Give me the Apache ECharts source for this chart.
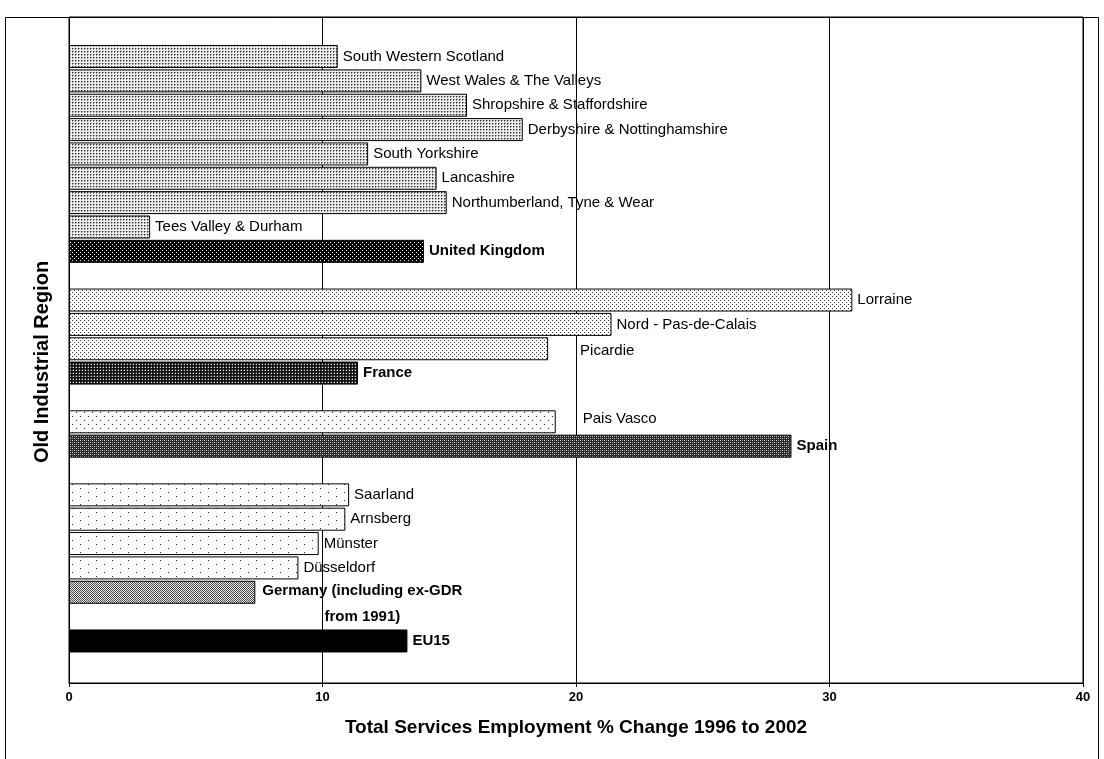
<!DOCTYPE html>
<html>
<head>
<meta charset="utf-8">
<script src="https://cdn.jsdelivr.net/npm/echarts@6/dist/echarts.min.js"></script>
<style>
  html, body { margin: 0; padding: 0; background: #fff; }
  #chart { width: 1104px; height: 759px; }
</style>
</head>
<body>
<div id="chart"></div>
<script>
// rows top to bottom, '-' rows are the blank gaps between countries
var regions = ['South Western Scotland', 'West Wales & The Valleys', 'Shropshire & Staffordshire',
    'Derbyshire & Nottinghamshire', 'South Yorkshire', 'Lancashire', 'Northumberland, Tyne & Wear',
    'Tees Valley & Durham', 'United Kingdom', '-1',
    'Lorraine', 'Nord - Pas-de-Calais', 'Picardie', 'France', '-2',
    'Pais Vasco', 'Spain', '-3',
    'Saarland', 'Arnsberg', 'Münster', 'Düsseldorf', 'Germany (including ex-GDR\nfrom 1991)', '-4',
    'EU15'];
var change = [10.6, 13.9, 15.7, 17.9, 11.8, 14.5, 14.9, 3.2, 14.0, null,
    30.9, 21.4, 18.9, 11.4, null,
    19.2, 28.5, null,
    11.05, 10.9, 9.85, 9.05, 7.35, null,
    13.35];
var fills = ['ukReg', 'ukReg', 'ukReg', 'ukReg', 'ukReg', 'ukReg', 'ukReg', 'ukReg', 'uk', null,
    'frReg', 'frReg', 'frReg', 'fr', null,
    'esReg', 'es', null,
    'deReg', 'deReg', 'deReg', 'deReg', 'de', null,
    'eu'];
var nations = ['United Kingdom', 'France', 'Spain', 'Germany (including ex-GDR\nfrom 1991)', 'EU15'];
var xTicks = [0, 10, 20, 30, 40];

// small bitmap fills like the old excel patterns
function pattern(w, h, bg, fg, dots) {
    var c = document.createElement('canvas');
    c.width = w; c.height = h;
    var ctx = c.getContext('2d');
    ctx.fillStyle = bg;
    ctx.fillRect(0, 0, w, h);
    dots.forEach(function (d) {
        ctx.fillStyle = d[2] || fg;
        ctx.fillRect(d[0], d[1], 1, 1);
    });
    return {image: c, repeat: 'repeat'};
}

var patterns = {
    ukReg: pattern(3, 3, '#eeeeee', '#8c8c8c', [[0, 0, '#333'], [1, 0], [0, 1]]),
    uk: pattern(4, 4, '#000', '#fff', [[0, 0], [2, 2]]),
    frReg: pattern(4, 4, '#fff', '#333', [[0, 0], [2, 2]]),
    fr: pattern(3, 3, '#111', '#ddd', [[1, 1], [1, 0, '#555'], [0, 1, '#555']]),
    esReg: pattern(8, 8, '#fff', '#333', [[0, 0], [4, 4]]),
    es: pattern(4, 4, '#2a2a2a', '#ddd', [[0, 0], [2, 2], [2, 0, '#888'], [0, 2, '#888']]),
    deReg: pattern(16, 8, '#fff', '#222', [[0, 0], [8, 4]]),
    de: pattern(2, 2, '#eee', '#444', [[0, 0], [1, 1]]),
    eu: '#000'
};

var barData = change.map(function (v, i) {
    if (v === null) return {value: null};
    var item = {
        value: v,
        itemStyle: {color: patterns[fills[i]]},
        label: {}
    };
    if (nations.indexOf(regions[i]) >= 0) {
        item.label.fontWeight = 'bold';
    }
    if (regions[i] === 'Picardie') item.label.offset = [27, 2];
    if (regions[i] === 'Pais Vasco') item.label.offset = [22, -3];
    if (regions[i].indexOf('Germany') === 0) {
        item.label.align = 'center';
        item.label.offset = [102, 12];
    }
    return item;
});

var myChart = echarts.init(document.getElementById('chart'));
var option = {
    animation: false,
    textStyle: {fontFamily: 'Liberation Sans, Arial, sans-serif', color: '#000'},
    graphic: [{
        type: 'rect',
        shape: {x: 5.5, y: 17.5, width: 1093, height: 760},
        style: {fill: null, stroke: '#000', lineWidth: 1},
        z: -1
    }],
    grid: [
        {left: 69, right: 21, top: 17, bottom: 76, show: true, borderColor: '#000', borderWidth: 1},
        {left: 69, right: 21, top: 20, height: 657.5}
    ],
    xAxis: [{
        gridIndex: 0,
        type: 'value',
        min: xTicks[0],
        max: xTicks[xTicks.length - 1],
        interval: 10,
        name: 'Total Services Employment % Change 1996 to 2002',
        nameLocation: 'middle',
        nameGap: 35,
        nameTextStyle: {fontSize: 19, fontWeight: 'bold', color: '#000'},
        axisLine: {show: true, lineStyle: {color: '#000', width: 1}},
        axisTick: {show: true, length: 4, lineStyle: {color: '#000'}},
        axisLabel: {fontSize: 13, fontWeight: 'bold', color: '#000', margin: 8},
        splitLine: {show: true, lineStyle: {color: '#000', width: 1}}
    }, {
        gridIndex: 1,
        type: 'value',
        min: xTicks[0],
        max: xTicks[xTicks.length - 1],
        show: false
    }],
    yAxis: [{
        gridIndex: 0,
        type: 'value',
        name: 'Old Industrial Region',
        nameLocation: 'middle',
        nameGap: 17,
        nameTextStyle: {fontSize: 20, fontWeight: 'bold', color: '#000', padding: [0, 24, 0, 0]},
        axisLine: {show: false},
        axisTick: {show: false},
        axisLabel: {show: false},
        splitLine: {show: false}
    }, {
        gridIndex: 1,
        type: 'category',
        inverse: true,
        data: ['top'].concat(regions, ['bottom']),
        show: false
    }],
    series: [{
        type: 'bar',
        xAxisIndex: 1,
        yAxisIndex: 1,
        barWidth: 23,
        data: [{value: null}].concat(barData, [{value: null}]),
        itemStyle: {borderColor: '#000', borderWidth: 1},
        label: {
            show: true,
            position: 'right',
            distance: 5,
            fontSize: 15,
            color: '#000',
            fontFamily: 'Liberation Sans, Arial, sans-serif',
            lineHeight: 26,
            formatter: function (p) { return p.name; }
        }
    }]
};
myChart.setOption(option);
</script>
</body>
</html>
